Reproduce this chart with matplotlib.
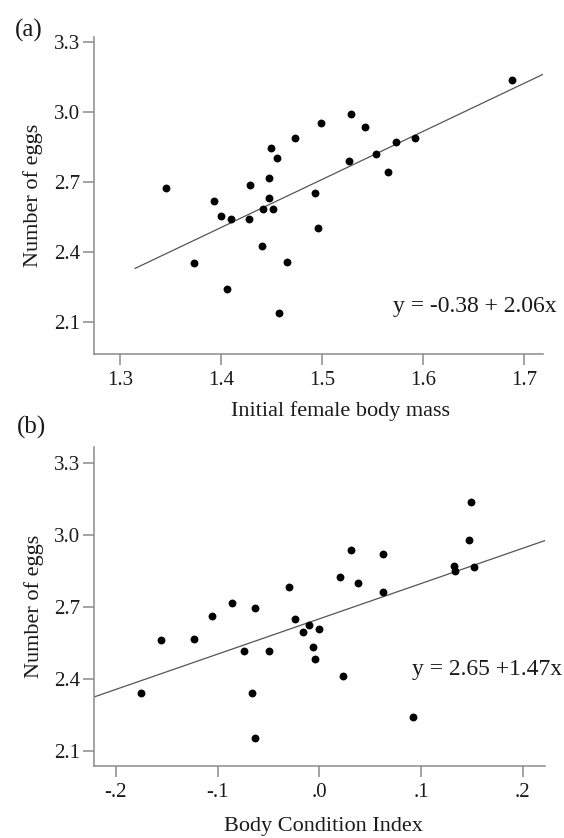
import matplotlib
matplotlib.use("Agg")
import matplotlib.pyplot as plt
import numpy as np

# ---- data ----
mass = [1.3455, 1.3934, 1.4003, 1.4102, 1.4284, 1.4274, 1.3733, 1.4056, 1.4406,
        1.4413, 1.4472, 1.4472, 1.4515, 1.4498, 1.4554, 1.4730, 1.4574, 1.4653,
        1.4987, 1.4934, 1.4957, 1.5284, 1.5429, 1.5267, 1.5535, 1.5730, 1.5918,
        1.5650, 1.6884]
eggs_a = [2.675, 2.618, 2.555, 2.539, 2.688, 2.539, 2.353, 2.239, 2.424,
          2.585, 2.632, 2.718, 2.585, 2.846, 2.803, 2.886, 2.136, 2.355,
          2.952, 2.651, 2.502, 2.992, 2.936, 2.788, 2.819, 2.871, 2.886,
          2.741, 3.135]

bci = [-0.1750, -0.1553, -0.1232, -0.1052, -0.0861, -0.0629, -0.0738, -0.0495,
       -0.0662, -0.0629, -0.0303, -0.0244, -0.0160, -0.0098, -0.0003, -0.0059,
       -0.0039, 0.0204, 0.0312, 0.0378, 0.0629, 0.0629, 0.0236, 0.0924,
       0.1328, 0.1335, 0.1472, 0.1495, 0.1519]
eggs_b = [2.3425, 2.5617, 2.5646, 2.6633, 2.7158, 2.6938, 2.5175, 2.5175,
          2.3425, 2.1521, 2.7813, 2.6492, 2.5938, 2.6258, 2.6063, 2.5342,
          2.4825, 2.8258, 2.9383, 2.7979, 2.9188, 2.7633, 2.4104, 2.2408,
          2.8688, 2.8508, 2.9800, 3.1367, 2.8675]

fit_a = (-0.38, 2.06)
fit_b = (2.65, 1.47)
fit_a_range = (1.315, 1.7188)
fit_b_range = (-0.2216, 0.2219)

yticks = [2.1, 2.4, 2.7, 3.0, 3.3]
xticks_a = [1.3, 1.4, 1.5, 1.6, 1.7]
xticks_a_lbl = ["1.3", "1.4", "1.5", "1.6", "1.7"]
xticks_b = [-0.2, -0.1, 0.0, 0.1, 0.2]
xticks_b_lbl = ["-.2", "-.1", ".0", ".1", ".2"]

plt.rcParams['font.family'] = ['Liberation Serif', 'DejaVu Serif']

W, H = 564, 838
fig = plt.figure(figsize=(W / 100, H / 100), dpi=100)

def px_axes(l, t, r, b):
    return fig.add_axes([l / W, 1 - b / H, (r - l) / W, (b - t) / H])

ax1 = px_axes(94, 37, 543, 354)
ax2 = px_axes(94, 447, 545, 766)

spine_col = '#8a8a8a'
TICK_FS = 15
LAB_FS = 16
EQ_FS = 17

def style(ax):
    for s in ['top', 'right']:
        ax.spines[s].set_visible(False)
    for s in ['left', 'bottom']:
        ax.spines[s].set_color(spine_col)
        ax.spines[s].set_linewidth(1.1)
    ax.tick_params(axis='both', direction='out', length=8, width=1.1,
                   color=spine_col, labelsize=TICK_FS, labelcolor='#1a1a1a')
    ax.tick_params(axis='y', pad=2)
    ax.tick_params(axis='x', pad=4)

# panel a
ax1.scatter(mass, eggs_a, s=32, color='black', zorder=3, linewidths=0)
xa = np.array(fit_a_range)
ax1.plot(xa, fit_a[0] + fit_a[1] * xa, color='#555555', lw=0.9)
ax1.set_xlim(1.2743, 1.7188)
ax1.set_ylim(1.962, 3.3207)
ax1.set_xticks(xticks_a)
ax1.set_xticklabels(xticks_a_lbl)
ax1.set_yticks(yticks)
ax1.set_yticklabels([f"{v:.1f}" for v in yticks])
style(ax1)
ax1.set_xlabel("Initial female body mass", fontsize=LAB_FS, color='#1a1a1a')
ax1.xaxis.set_label_coords(0.548, -0.15)
ax1.set_ylabel("Number of eggs", fontsize=LAB_FS, color='#1a1a1a')
ax1.yaxis.set_label_coords(-0.1136, 0.5)
ax1.text(1.031, 0.149, "y = -0.38 + 2.06x", transform=ax1.transAxes,
         ha='right', va='center', fontsize=EQ_FS, color='#1a1a1a')

# panel b
ax2.scatter(bci, eggs_b, s=32, color='black', zorder=3, linewidths=0)
xb = np.array(fit_b_range)
ax2.plot(xb, fit_b[0] + fit_b[1] * xb, color='#555555', lw=0.9)
ax2.set_xlim(-0.2216, 0.2219)
ax2.set_ylim(2.0367, 3.366)
ax2.set_xticks(xticks_b)
ax2.set_xticklabels(xticks_b_lbl)
ax2.set_yticks(yticks)
ax2.set_yticklabels([f"{v:.1f}" for v in yticks])
style(ax2)
ax2.set_xlabel("Body Condition Index", fontsize=LAB_FS, color='#1a1a1a')
ax2.xaxis.set_label_coords(0.508, -0.161)
ax2.set_ylabel("Number of eggs", fontsize=LAB_FS, color='#1a1a1a')
ax2.yaxis.set_label_coords(-0.111, 0.5)
ax2.text(1.037, 0.302, "y = 2.65 +1.47x", transform=ax2.transAxes,
         ha='right', va='center', fontsize=EQ_FS, color='#1a1a1a')

fig.text(29 / W, 1 - 30 / H, "(a)", ha='center', va='center', fontsize=18, color='#1a1a1a')
fig.text(31 / W, 1 - 427 / H, "(b)", ha='center', va='center', fontsize=18, color='#1a1a1a')

fig.savefig("out.png", dpi=100)
